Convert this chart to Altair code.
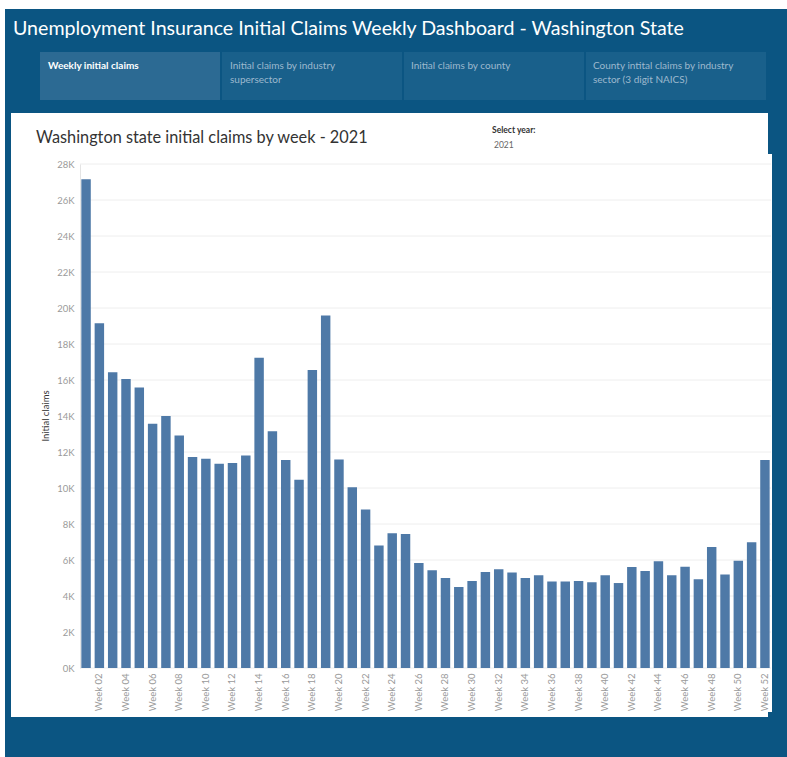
import altair as alt
import pandas as pd

# Weekly initial claims, Washington State, 2021
weeks = [f"Week {i:02d}" for i in range(1, 53)]
claims = [
    27150, 19150, 16430, 16060, 15590, 13570, 14000, 12910, 11720, 11630,
    11350, 11390, 11810, 17240, 13150, 11560, 10460, 16560, 19590, 11590,
    10040, 8810, 6810, 7480, 7440, 5830, 5430, 5000, 4500, 4830,
    5330, 5480, 5300, 5000, 5150, 4800, 4800, 4830, 4760, 5150,
    4720, 5610, 5390, 5930, 5150, 5630, 4930, 6720, 5190, 5960,
    6980, 11560,
]
y_ticks = list(range(0, 28001, 2000))
x_label_weeks = weeks[1::2]

dashboard_title = "Unemployment Insurance Initial Claims Weekly Dashboard  - Washington State"
chart_title = "Washington state initial claims by week - 2021"
tab_labels = [
    ["Weekly initial claims"],
    ["Initial claims by industry", "supersector"],
    ["Initial claims by county"],
    ["County intital claims by industry", "sector (3 digit NAICS)"],
]

df = pd.DataFrame({"week": weeks, "claims": claims})
grid_df = pd.DataFrame({"claims": y_ticks})

FONT = "Lato"
NAVY = "#0b5582"
BAR = "#4e79a7"

# plot area placement on the page
L, T, W, H = 80, 164, 691, 504
PAGE_W, PAGE_H = 787, 757

one = alt.Data(values=[{}])


def box(x0, y0, x1, y1, color):
    return alt.Chart(one).mark_rect(color=color, clip=False).encode(
        x=alt.value(x0 - L), x2=alt.value(x1 - L),
        y=alt.value(y0 - T), y2=alt.value(y1 - T),
    )


def label(txt, x, y, size, color, weight="normal", baseline="middle", angle=0, align="left"):
    return alt.Chart(one).mark_text(
        text=txt, font=FONT, fontSize=size, color=color, fontWeight=weight,
        baseline=baseline, align=align, angle=angle, clip=False,
    ).encode(x=alt.value(x - L), y=alt.value(y - T))


layers = [
    box(5, 9, PAGE_W, PAGE_H, NAVY),
    box(40, 52, 220, 100, "#2c6a93"),
    box(222, 52, 402, 100, "#19608b"),
    box(404, 52, 584, 100, "#19608b"),
    box(586, 52, 766, 100, "#19608b"),
    box(11, 113, 768, 717, "white"),
    box(768, 154, 772, 712, "white"),
    label(dashboard_title, 13, 35, 19.6, "white", baseline="alphabetic"),
    label(chart_title, 36, 138, 16.3, "#333333"),
    label("Select year:", 492, 130, 8.5, "#333333", weight="bold"),
    label("2021", 494, 145, 8.5, "#666666"),
    label("Initial claims", 46, T + H / 2, 9.5, "#333333", angle=270, align="center"),
]

tab_x = [48, 230, 411, 593]
for i, (tx, lines) in enumerate(zip(tab_x, tab_labels)):
    for j, line in enumerate(lines):
        if i == 0:
            layers.append(label(line, tx, 66 + 14 * j, 10, "white", weight="bold"))
        else:
            layers.append(label(line, tx, 66 + 14 * j, 10, "#9db9ce"))

y_scale = alt.Scale(domain=[0, 28000], nice=False, zero=True)
y_axis = alt.Axis(
    values=y_ticks, labelExpr="datum.value / 1000 + 'K'",
    labelColor="#9a9a9a", labelFontSize=9.5, labelFont=FONT,
    ticks=False, domain=True, domainColor="#e4e4e4", grid=False,
    labelPadding=6, title=None, zindex=1,
)

# horizontal gridlines at the y tick values, under the bars
grid = alt.Chart(grid_df).mark_rule(color="#eeeeee", strokeWidth=1).encode(
    y=alt.Y("claims:Q", scale=y_scale, axis=y_axis)
)

bars = alt.Chart(df).mark_bar(color=BAR).encode(
    x=alt.X(
        "week:N", sort=weeks,
        scale=alt.Scale(paddingInner=0.29, paddingOuter=0.1),
        axis=alt.Axis(
            values=x_label_weeks, labelAngle=-90, labelColor="#9a9a9a",
            labelFontSize=9.5, labelFont=FONT, ticks=False, domain=False,
            labelPadding=5, title=None, zindex=1,
        ),
    ),
    y=alt.Y("claims:Q", scale=y_scale, axis=y_axis),
)

layers += [grid, bars]

chart = alt.layer(*layers).properties(
    width=W, height=H,
    autosize=alt.AutoSizeParams(type="none"),
    padding={"left": L, "top": T, "right": PAGE_W - L - W, "bottom": PAGE_H - T - H},
    background="white",
).configure_view(stroke=None)

chart.save("out.html", embed_options={"renderer": "svg", "actions": False})
